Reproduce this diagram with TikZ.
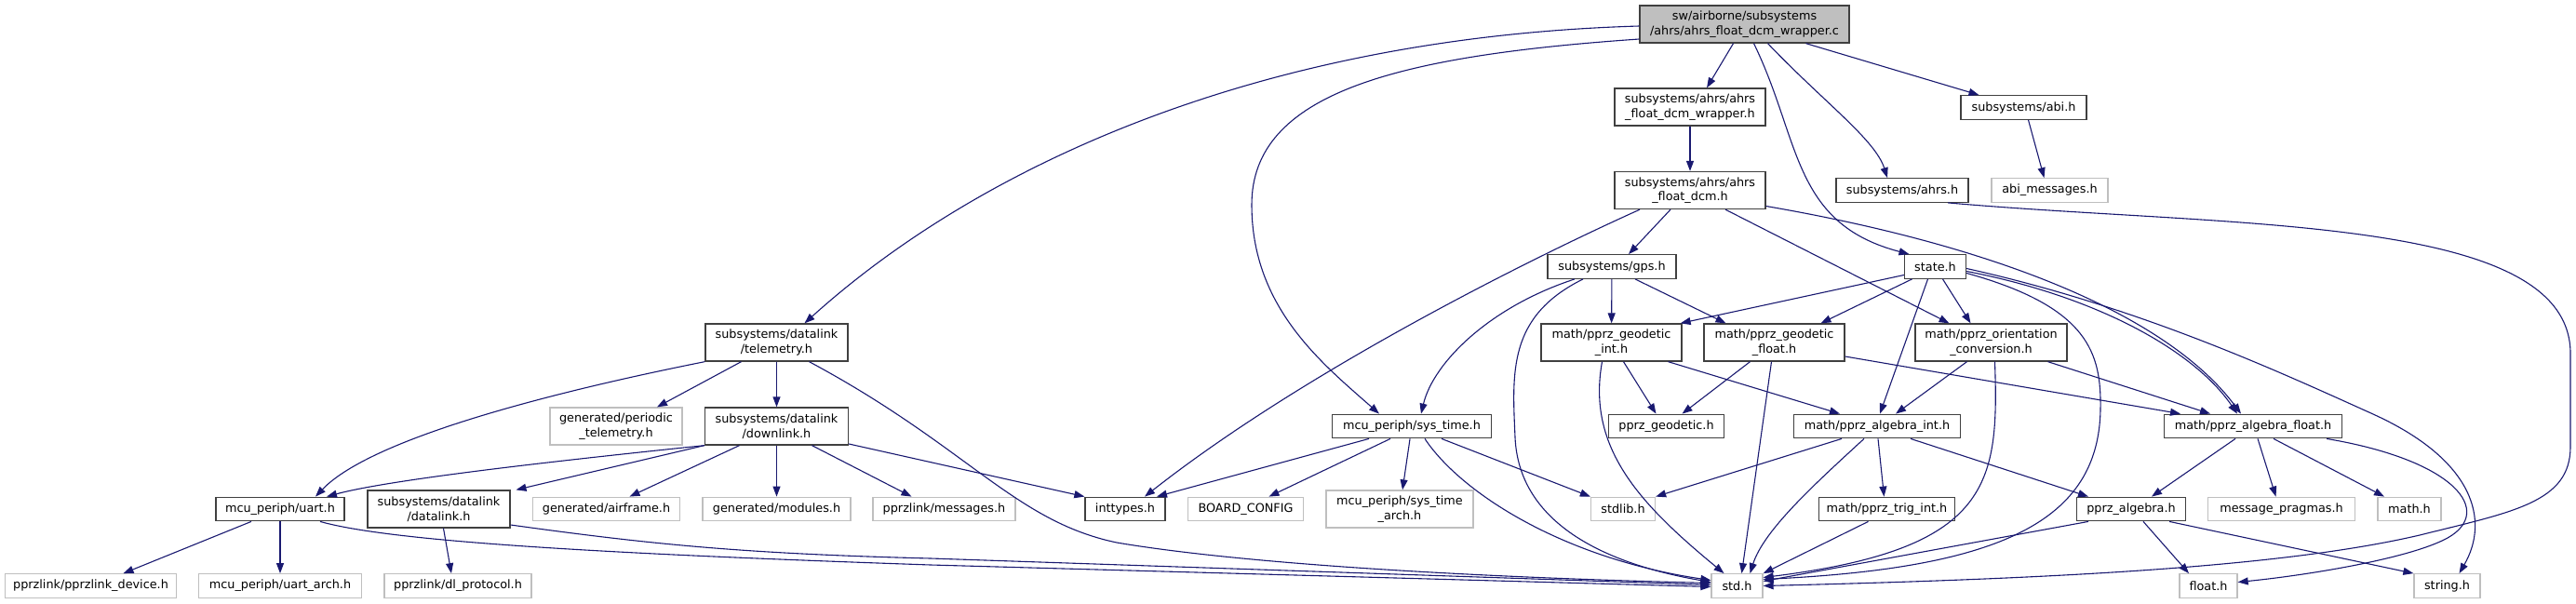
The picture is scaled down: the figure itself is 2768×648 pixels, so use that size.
\documentclass[tikz,border=0pt]{standalone}
\usepackage{fontspec}
\setmainfont{DejaVu Sans}
\usetikzlibrary{arrows.meta}
\definecolor{edgeblue}{HTML}{191970}
\definecolor{boxgray}{HTML}{404040}
\definecolor{extgray}{HTML}{BFBFBF}
\newcommand{\gfont}{\fontsize{12.8pt}{15.5pt}\selectfont}
\begin{document}
\begin{tikzpicture}[x=1pt,y=-1pt,
  hdr/.style={draw=boxgray, fill=white, line width=1.3pt, inner sep=0pt,
    minimum height=25.5pt, align=center, font=\gfont},
  ext/.style={hdr, draw=extgray},
  two/.style={minimum height=40pt},
  incl/.style={draw=edgeblue, line width=1.1pt, -{Triangle[length=11pt,width=8pt]}}]
  \useasboundingbox (0,0) rectangle (2768,648);
  % File being documented
  \node[hdr, two, fill=extgray, minimum width=225pt] (root) at (1874.5,26) {sw/airborne/subsystems\\/ahrs/ahrs\_float\_dcm\_wrapper.c};
  % Rank 1 and 2
  \node[hdr, two, minimum width=162pt] (wrapper) at (1816,115) {subsystems/ahrs/ahrs\\\_float\_dcm\_wrapper.h};
  \node[hdr, minimum width=135pt] (abi) at (2174.5,115.5) {subsystems/abi.h};
  \node[hdr, two, minimum width=162pt] (dcm) at (1816,204.5) {subsystems/ahrs/ahrs\\\_float\_dcm.h};
  \node[hdr, minimum width=142pt] (ahrs) at (2044,204.5) {subsystems/ahrs.h};
  \node[ext, minimum width=125pt] (abimsg) at (2202.5,204.5) {abi\_messages.h};
  % Rank 3 and 4
  \node[hdr, minimum width=138pt] (gps) at (1732,286.5) {subsystems/gps.h};
  \node[hdr, minimum width=66pt] (state) at (2079.5,286.5) {state.h};
  \node[hdr, two, minimum width=153pt] (tele) at (834.5,368) {subsystems/datalink\\/telemetry.h};
  \node[hdr, two, minimum width=151pt] (geoint) at (1731.5,368) {math/pprz\_geodetic\\\_int.h};
  \node[hdr, two, minimum width=151pt] (geofloat) at (1906.5,368) {math/pprz\_geodetic\\\_float.h};
  \node[hdr, two, minimum width=163pt] (orient) at (2139.5,368) {math/pprz\_orientation\\\_conversion.h};
  % Rank 5
  \node[ext, two, minimum width=142pt] (periodic) at (662,458) {generated/periodic\\\_telemetry.h};
  \node[hdr, two, minimum width=154pt] (downlink) at (834.5,458) {subsystems/datalink\\/downlink.h};
  \node[hdr, minimum width=171pt] (systime) at (1517,458) {mcu\_periph/sys\_time.h};
  \node[hdr, minimum width=124pt] (pprzgeo) at (1790.5,458) {pprz\_geodetic.h};
  \node[hdr, minimum width=179pt] (algint) at (2017,458) {math/pprz\_algebra\_int.h};
  \node[hdr, minimum width=191pt] (algfloat) at (2421,458) {math/pprz\_algebra\_float.h};
  % Rank 6
  \node[hdr, minimum width=138pt] (uart) at (301,547) {mcu\_periph/uart.h};
  \node[hdr, two, minimum width=153pt] (datalink) at (471.5,547) {subsystems/datalink\\/datalink.h};
  \node[ext, minimum width=158pt] (airframe) at (651.5,547) {generated/airframe.h};
  \node[ext, minimum width=159pt] (modules) at (834.5,547) {generated/modules.h};
  \node[ext, minimum width=153pt] (messages) at (1014.5,547) {pprzlink/messages.h};
  \node[hdr, minimum width=86pt] (inttypes) at (1209,547) {inttypes.h};
  \node[ext, minimum width=124pt] (board) at (1338.5,547) {BOARD\_CONFIG};
  \node[ext, two, minimum width=158pt] (systarch) at (1504,547) {mcu\_periph/sys\_time\\\_arch.h};
  \node[ext, minimum width=69pt] (stdlib) at (1744,547) {stdlib.h};
  \node[hdr, minimum width=146pt] (trig) at (2027.5,547) {math/pprz\_trig\_int.h};
  \node[hdr, minimum width=117pt] (palg) at (2290,547) {pprz\_algebra.h};
  \node[ext, minimum width=158pt] (msgpr) at (2451.5,547) {message\_pragmas.h};
  \node[ext, minimum width=68pt] (mathh) at (2589,547) {math.h};
  % Rank 7
  \node[ext, minimum width=184pt] (device) at (97.5,629.5) {pprzlink/pprzlink\_device.h};
  \node[ext, minimum width=175pt] (uartarch) at (301,629.5) {mcu\_periph/uart\_arch.h};
  \node[ext, minimum width=158pt] (dlproto) at (492,629.5) {pprzlink/dl\_protocol.h};
  \node[ext, minimum width=55pt] (std) at (1866.5,629.5) {std.h};
  \node[ext, minimum width=62pt] (floath) at (2373,629.5) {float.h};
  \node[ext, minimum width=71pt] (stringh) at (2629.5,629.5) {string.h};

  % Includes of the .c file
  \draw[incl] ([yshift=-2pt]root.west) .. controls (1350,40) and (1050,180) .. ([xshift=30pt]tele.north);
  \draw[incl] ([yshift=-16pt]root.west) .. controls (1500,60) and (1345,100) .. (1345,220)
    .. controls (1345,330) and (1420,390) .. ([xshift=-35pt]systime.north);
  \draw[incl] ([xshift=-12pt]root.south) -- ([xshift=18pt]wrapper.north);
  \draw[incl] ([xshift=10pt]root.south) .. controls (1935,150) and (1925,240) .. ([xshift=-28pt]state.north);
  \draw[incl] ([xshift=25pt]root.south) .. controls (1960,110) and (2015,150) .. ([xshift=-16pt]ahrs.north);
  \draw[incl] ([xshift=66pt]root.south) -- ([xshift=-48pt]abi.north);
  % AHRS headers
  \draw[incl] (wrapper) -- (dcm);
  \draw[incl] ([xshift=5pt]abi.south) -- ([xshift=-6pt]abimsg.north);
  \draw[incl] ([xshift=49pt]ahrs.south) .. controls (2400,245) and (2762,230) .. (2762,380) -- (2762,480)
    .. controls (2762,540) and (2700,550) .. (2600,575) .. controls (2450,610) and (2200,622) .. (std.east);
  \draw[incl] ([xshift=-54pt]dcm.south) .. controls (1640,280) and (1400,400) .. ([xshift=21pt]inttypes.north);
  \draw[incl] ([xshift=-21pt]dcm.south) -- ([xshift=18pt]gps.north);
  \draw[incl] ([xshift=38pt]dcm.south) -- ([xshift=-45pt]orient.north);
  \draw[incl] ([yshift=-17pt]dcm.east) .. controls (2150,265) and (2330,340) .. ([xshift=-13pt]algfloat.north);
  % gps.h
  \draw[incl] ([xshift=-40pt]gps.south) .. controls (1600,330) and (1540,390) .. ([xshift=10pt]systime.north);
  \draw[incl] ([xshift=-31pt]gps.south) .. controls (1620,340) and (1625,400) .. (1628,470)
    .. controls (1632,560) and (1720,605) .. ([yshift=4pt]std.west);
  \draw[incl] (gps) -- (geoint);
  \draw[incl] ([xshift=25pt]gps.south) -- ([xshift=-52pt]geofloat.north);
  % state.h
  \draw[incl] ([yshift=-9pt]state.west) -- ([xshift=-2pt]geoint.north east);
  \draw[incl] ([xshift=-25pt]state.south) -- ([xshift=50pt]geofloat.north);
  \draw[incl] ([xshift=8pt]state.south) -- ([xshift=-22pt]orient.north);
  \draw[incl] ([xshift=-8pt]state.south) -- ([xshift=3pt]algint.north);
  \draw[incl] ([yshift=-7pt]state.east) .. controls (2245,330) and (2258,380) .. (2257,440)
    .. controls (2255,560) and (2150,610) .. ([yshift=7pt]std.east);
  \draw[incl] ([yshift=-5pt]state.east) .. controls (2260,320) and (2360,380) .. ([xshift=-17pt]algfloat.north);
  \draw[incl] ([yshift=-2pt]state.east) .. controls (2300,330) and (2450,400) .. (2550,445)
    .. controls (2660,495) and (2675,560) .. ([xshift=13pt]stringh.north);
  % geodetic and orientation
  \draw[incl] ([xshift=-10pt]geoint.south) .. controls (1705,480) and (1760,540) .. ([xshift=-14pt]std.north);
  \draw[incl] ([xshift=13pt]geoint.south) -- ([xshift=-11pt]pprzgeo.north);
  \draw[incl] ([xshift=61pt]geoint.south) -- ([xshift=-40pt]algint.north);
  \draw[incl] ([xshift=-26pt]geofloat.south) -- ([xshift=17pt]pprzgeo.north);
  \draw[incl] ([xshift=-3pt]geofloat.south) -- ([xshift=5pt]std.north);
  \draw[incl] ([yshift=-15pt]geofloat.east) -- ([xshift=-78pt]algfloat.north);
  \draw[incl] ([xshift=-26pt]orient.south) -- ([xshift=20pt]algint.north);
  \draw[incl] ([xshift=4pt]orient.south) .. controls (2148,520) and (2140,590) .. ([yshift=9pt]std.east);
  \draw[incl] ([xshift=61pt]orient.south) -- ([xshift=-46pt]algfloat.north);
  % algebra headers
  \draw[incl] ([xshift=-38pt]algint.south) -- (stdlib.north east);
  \draw[incl] ([xshift=-14pt]algint.south) .. controls (1950,520) and (1895,570) .. ([xshift=14pt]std.north);
  \draw[incl] ([xshift=1pt]algint.south) -- ([xshift=-3pt]trig.north);
  \draw[incl] ([xshift=36pt]algint.south) -- ([xshift=-46pt]palg.north);
  \draw[incl] ([xshift=-19pt]algfloat.south) -- ([xshift=22pt]palg.north);
  \draw[incl] ([xshift=5pt]algfloat.south) -- ([xshift=-6pt]msgpr.north);
  \draw[incl] ([xshift=22pt]algfloat.south) -- ([xshift=-27pt]mathh.north);
  \draw[incl] ([xshift=79pt]algfloat.south) .. controls (2640,495) and (2680,550) .. (2630,578)
    .. controls (2590,600) and (2480,618) .. ([yshift=4pt]floath.east);
  \draw[incl] ([xshift=-20pt]trig.south) -- (std.north east);
  \draw[incl] ([xshift=-46pt]palg.south) -- ([yshift=5pt]std.east);
  \draw[incl] ([xshift=13pt]palg.south) -- ([xshift=-21pt]floath.north);
  \draw[incl] ([xshift=41pt]palg.south) -- (stringh.north west);
  % sys_time.h
  \draw[incl] ([xshift=-46pt]systime.south) -- ([xshift=34pt]inttypes.north);
  \draw[incl] ([xshift=-23pt]systime.south) -- ([xshift=25pt]board.north);
  \draw[incl] (systime) -- (systarch);
  \draw[incl] ([xshift=14pt]systime.south) .. controls (1570,530) and (1680,600) .. ([yshift=6pt]std.west);
  \draw[incl] ([xshift=32pt]systime.south) -- (stdlib.north west);
  % telemetry and downlink
  \draw[incl] (tele.south west) .. controls (600,420) and (400,470) .. ([xshift=38pt]uart.north);
  \draw[incl] ([xshift=-38pt]tele.south) -- ([xshift=44pt]periodic.north);
  \draw[incl] (tele) -- (downlink);
  \draw[incl] ([xshift=35pt]tele.south) .. controls (1040,480) and (1090,560) .. (1200,583)
    .. controls (1300,600) and (1500,618) .. ([yshift=3pt]std.west);
  \draw[incl] (downlink.south west) .. controls (600,495) and (420,515) .. ([xshift=50pt]uart.north);
  \draw[incl] (downlink.south west) -- ([xshift=83pt]datalink.north);
  \draw[incl] ([xshift=-40pt]downlink.south) -- ([xshift=25pt]airframe.north);
  \draw[incl] (downlink) -- (modules);
  \draw[incl] ([xshift=38pt]downlink.south) -- ([xshift=-35pt]messages.north);
  \draw[incl] ([yshift=-19pt]downlink.east) -- (inttypes.north west);
  % uart and datalink
  \draw[incl] ([xshift=-31pt]uart.south) -- ([xshift=35pt]device.north);
  \draw[incl] (uart) -- (uartarch);
  \draw[incl] ([xshift=43pt]uart.south) .. controls (420,582) and (650,595) .. (1000,607) -- ([yshift=-1pt]std.west);
  \draw[incl] ([yshift=-17pt]datalink.east) .. controls (700,585) and (800,595) .. (1000,600) -- ([yshift=1pt]std.west);
  \draw[incl] ([xshift=5pt]datalink.south) -- ([xshift=-7pt]dlproto.north);
\end{tikzpicture}
\end{document}
